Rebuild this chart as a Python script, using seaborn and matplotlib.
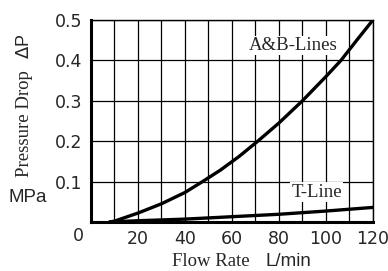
import numpy as np
import pandas as pd
import matplotlib.pyplot as plt
import seaborn as sns

# flow rate (L/min) vs pressure drop (MPa)
ab_flow = [8, 10, 20, 30, 40, 47.5, 55, 63, 71, 80, 90, 100, 106.4, 113, 120]
ab_dp = [0.0, 0.002, 0.022, 0.045, 0.073, 0.1, 0.128, 0.162, 0.2, 0.245, 0.3, 0.36, 0.4, 0.449, 0.5]
t_flow = [8, 20, 40, 60, 80, 100, 120]
t_dp = [0.0, 0.003, 0.007, 0.013, 0.019, 0.027, 0.036]

x_ticks = [20, 40, 60, 80, 100, 120]
y_ticks = [0.1, 0.2, 0.3, 0.4, 0.5]

sans = "Liberation Sans"
serif = "Liberation Serif"
tick_font = "DejaVu Sans"

sns.set_style("white")
fig = plt.figure(figsize=(3.88, 2.71), dpi=100)
ax = fig.add_axes([0.2345, 0.181, 0.7265, 0.745])

ab = pd.DataFrame({"flow": ab_flow, "dp": ab_dp})
tl = pd.DataFrame({"flow": t_flow, "dp": t_dp})
sns.lineplot(data=ab, x="flow", y="dp", ax=ax, color="black", lw=2.4)
sns.lineplot(data=tl, x="flow", y="dp", ax=ax, color="black", lw=2.4)

ax.set_xlim(0, 120)
ax.set_ylim(0, 0.5)
ax.set_xticks(np.arange(0, 121, 10), minor=True)
ax.set_xticks(x_ticks)
ax.set_yticks(y_ticks)
ax.set_xticklabels([str(v) for v in x_ticks], fontname=tick_font, fontsize=12.5)
ax.set_yticklabels([str(v) for v in y_ticks], fontname=tick_font, fontsize=12.5)
ax.tick_params(which="both", length=0, pad=6)
ax.grid(True, which="both", color="black", lw=0.9)
ax.set_xlabel("")
ax.set_ylabel("")
for s in ["left", "bottom"]:
    ax.spines[s].set_linewidth(2.2)
for s in ["top", "right"]:
    ax.spines[s].set_linewidth(1.0)
for s in ax.spines.values():
    s.set_color("black")
    s.set_zorder(5)

ax.annotate("0", xy=(0, 0), xytext=(-13, -14), textcoords="offset pixels",
            ha="center", va="center", fontname=tick_font, fontsize=12.5)

ax.text(86, 0.437, "A&B-Lines", fontname=serif, fontsize=13.5,
        ha="center", va="center",
        bbox=dict(facecolor="white", edgecolor="none", pad=1))
ax.text(96, 0.074, "T-Line", fontname=serif, fontsize=13.5,
        ha="center", va="center",
        bbox=dict(facecolor="white", edgecolor="none", pad=1))

W, H = 388, 271
fig.text(25 / W, 1 - 124 / H, "Pressure Drop", rotation=90, fontname=serif,
         fontsize=13.5, ha="center", va="center")
fig.text(25 / W, 1 - 46 / H, "$\\mathit{\\Delta}$P", rotation=90, fontname=sans,
         fontsize=13, ha="center", va="center")
fig.text(28 / W, 1 - 198 / H, "MPa", fontname=sans, fontsize=13.5,
         ha="center", va="center")
fig.text(211 / W, 1 - 266 / H, "Flow Rate", fontname=serif, fontsize=13.5,
         ha="center", va="baseline")
fig.text(288 / W, 1 - 266 / H, "L/min", fontname=sans, fontsize=13.5,
         ha="center", va="baseline")

fig.savefig("out.png", dpi=100)
